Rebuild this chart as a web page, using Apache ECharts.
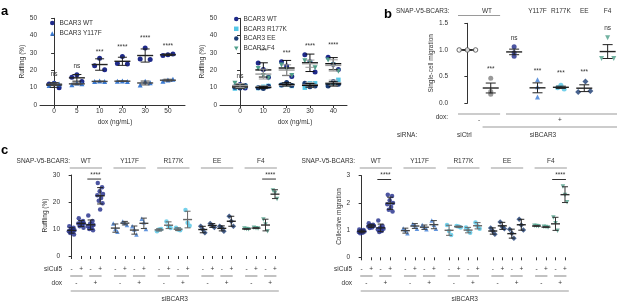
<!DOCTYPE html>
<html><head><meta charset="utf-8">
<script src="https://cdn.jsdelivr.net/npm/echarts@6/dist/echarts.min.js"></script>
<style>html,body{margin:0;padding:0;background:#fff}#c{width:617px;height:303px}</style>
</head><body><div id="c"></div>
<script>
// ================= DATA =================
// Panel a (left): ruffling (%) vs dox
const aLeftDoses = ['0','5','10','20','30','50'];
const aLeftWT    = [[12.1,12.5,10.0],[16.0,17.4,13.6],[22.7,26.9,20.4],[24.0,27.9,23.7],[26.5,32.9,26.2],[28.5,29.0,29.4]];
const aLeftY117F = [[11.2,12.7,12.1],[11.7,12.7,12.2],[13.5,13.8,13.5],[13.7,13.9,13.6],[11.5,13.7,12.9],[13.7,14.4,14.8]];
const aLeftSig   = ['ns','ns','***','****','****','****'];
const aLeftSigAt = [17.5,22.5,30.5,33.5,38.5,34.0];

// Panel a (right)
const aRightDoses = ['0','10','20','30','40'];
const aRightWT    = [[10.5,11.8,9.8],[24.2,20.5,16.0],[25.0,22.5,16.5],[29.0,25.0,19.0],[27.5,23.5,20.5]];
const aRightR177K = [[9.5,10.5,11.0],[9.8,10.5,11.0],[11.5,12.0,11.0],[10.0,12.5,12.5],[11.5,12.5,14.5]];
const aRightEE    = [[10.2,9.8,11.2],[10.0,9.5,10.8],[11.5,13.0,11.2],[12.5,10.5,11.0],[11.0,13.5,12.0]];
const aRightF4    = [[12.5,11.0,10.2],[21.0,17.0,15.5],[23.0,20.5,17.0],[25.5,24.5,21.5],[26.0,23.0,19.5]];
const aRightSig   = ['ns','***','***','****','****'];
const aRightSigAt = [16.5,31.0,30.0,34.0,34.5];

// Panel b: single-cell migration
const bGroups    = ['WT','WT','WT','Y117F','R177K','EE','F4'];
const bMigration = [[1.0,1.0,1.0],[0.47,0.22,0.17],[1.06,0.95,0.88],[0.44,0.31,0.12],[0.29,0.34,0.27],[0.41,0.21,0.23],[1.23,0.84,0.84]];
const bSig       = ['','***','ns','***','***','***','ns'];
const bSigAt     = [0,0.64,1.22,0.61,0.56,0.58,1.41];
const bDox       = ['-','+'];
const bSiRNA     = ['siCtrl','siBCAR3'];

// Panel c
const cMutants = ['WT','Y117F','R177K','EE','F4'];
const cSiCul5  = ['-','+','-','+'];
const cDox     = ['-','+'];
const cRuffWT    = [[11.0,10.5,10.0,9.5,9.2,9.0,8.5,8.0],[14.0,13.0,12.5,12.0,12.0,11.5,11.0,10.5],[15.0,13.0,12.0,11.5,11.0,10.5,10.0,9.5],[27.0,25.5,24.0,23.0,22.5,21.5,20.5,19.5,17.2]];
const cRuffY117F = [[12.0,10.0,9.0],[12.8,12.2,11.5],[11.0,9.8,8.0],[13.8,12.5,10.0]];
const cRuffR177K = [[9.2,9.8,10.0],[12.8,11.0,10.4],[10.5,9.8,9.5],[17.0,12.3,11.2]];
const cRuffEE    = [[11.0,9.8,8.6],[12.0,11.3,10.6],[11.0,10.5,9.2],[14.7,12.9,11.0]];
const cRuffF4    = [[10.2,10.0,9.9],[10.5,10.3,10.2],[13.5,11.7,9.2],[24.3,23.3,21.1]];
const cMigWT     = [[1.02,1.0,0.97,0.95,0.93,0.9,0.88],[1.25,1.2,1.17,1.15,1.13,1.1,1.08],[1.35,1.15,1.1,1.05,1.02,0.97,0.93],[2.3,2.25,2.1,2.0,1.95,1.85,1.75,1.68]];
const cMigY117F  = [[1.06,1.0,0.88],[1.22,1.18,1.05],[1.19,1.1,1.03],[1.35,1.2,1.05]];
const cMigR177K  = [[1.19,0.97,0.82],[1.15,1.13,1.1],[1.1,1.0,0.9],[1.28,1.15,1.05]];
const cMigEE     = [[1.08,0.97,0.85],[1.3,1.12,1.05],[1.03,0.88,0.7],[1.4,1.19,1.0]];
const cMigF4     = [[1.16,1.15,1.14],[1.12,1.11,1.1],[1.46,1.25,0.98],[2.6,2.29,2.02]];
const cSigRuff = ['****','','','','****'];
const cSigRuffAt = 29.7, cSigRuffLine = 28.5;
const cSigMig = ['****','','','','****'];
const cSigMigAt = 2.98, cSigMigLine = 2.86;

// ================= STYLE / LAYOUT =================
const FONT = '"Liberation Sans", Arial, sans-serif';
const FS = 6.5;
const TXT = '#333';
const COL = {WT:'#1f2a8a', Y117F:'#3b7bd4', R177K:'#53c6e6', EE:'#1a3b72', F4:'#4f9f8a', grey:'#7f7f7f'};
const DOWN = 'path://M0,0L10,0L5,9Z';
const jit3 = [-0.22, 0, 0.22];
const jitN = [-0.25, 0.2, -0.05, 0.3, -0.3, 0.1, -0.15, 0.25, 0];
const bJit = [[-0.35,0,0.35],[0,0,0],[0,0,0],[0,0,0],[-0.14,0,0.14],[0.05,-0.26,0.26],[0,-0.26,0.26]];
const cStep = 4.6;
const cX = (g,i) => g*cStep + i;

function stats(arr, sem){
  const n = arr.length, m = arr.reduce((a,b)=>a+b,0)/n;
  const sd = n>1 ? Math.sqrt(arr.reduce((a,b)=>a+(b-m)*(b-m),0)/(n-1)) : 0;
  const e = sem ? sd/Math.sqrt(n) : sd;
  return [m, m-e, m+e];
}
function errRender(hm, hc, lw){
  return function(params, api){
    const x=api.value(0), m=api.value(1), lo=api.value(2), hi=api.value(3);
    const pm=api.coord([x,m]), pl=api.coord([x,lo]), ph=api.coord([x,hi]);
    const c = api.visual('color');
    const st = {stroke:c, lineWidth:1};
    return {type:'group', children:[
      {type:'line', shape:{x1:pl[0],y1:pl[1],x2:ph[0],y2:ph[1]}, style:st},
      {type:'line', shape:{x1:pl[0]-hc,y1:pl[1],x2:pl[0]+hc,y2:pl[1]}, style:st},
      {type:'line', shape:{x1:ph[0]-hc,y1:ph[1],x2:ph[0]+hc,y2:ph[1]}, style:st},
      {type:'line', shape:{x1:pm[0]-hm,y1:pm[1],x2:pm[0]+hm,y2:pm[1]}, style:{stroke:c, lineWidth:lw||1.4}}
    ]};
  };
}
function errSeries(name, k, pts, color, hm, hc, lw){
  return {name, type:'custom', xAxisIndex:k, yAxisIndex:k, z:4, silent:true,
    dimensions:['x','m','lo','hi'], encode:{x:0,y:1},
    itemStyle:{color}, renderItem: errRender(hm,hc,lw), data: pts};
}
const series = [];

function addDose(k, name, arrs, symbol, color, ecol, size){
  const pts = [], eb = [];
  arrs.forEach((vals,i)=>{
    vals.forEach((v,j)=>pts.push([i + jit3[j%3], v]));
    eb.push([i, ...stats(vals,false)]);
  });
  series.push({name, type:'scatter', xAxisIndex:k, yAxisIndex:k, symbol, symbolSize:size||5,
    itemStyle:{color, opacity:1}, z:2, data:pts});
  series.push(errSeries(name+'_e'+k, k, eb, ecol, 8, 4.5));
}
addDose(0,'BCAR3 WT', aLeftWT, 'circle', COL.WT, '#222');
addDose(0,'BCAR3 Y117F', aLeftY117F, 'triangle', COL.Y117F, '#444');
addDose(1,'BCAR3 WT', aRightWT, 'circle', COL.WT, '#111');
addDose(1,'BCAR3 R177K', aRightR177K, 'rect', COL.R177K, '#aaa', 4.5);
addDose(1,'BCAR3 EE', aRightEE, 'circle', COL.EE, '#111');
addDose(1,'BCAR3 F4', aRightF4, DOWN, COL.F4, '#999');

// Panel b
(function(){
  const cols = ['#444', COL.grey, COL.WT, COL.Y117F, COL.R177K, COL.EE, COL.F4];
  const syms = ['circle','circle','circle','triangle','circle','diamond',DOWN];
  const pts = [], pts0 = [], eb = [];
  bMigration.forEach((vals,i)=>{
    vals.forEach((v,j)=>{
      const item = i===0
        ? {value:[i + bJit[i][j], v], symbol:'circle', symbolSize:4.5, itemStyle:{color:'#fff', borderColor:cols[0], borderWidth:1}}
        : {value:[i + bJit[i][j], v], symbol:syms[i], symbolSize: i===5?6:5, itemStyle:{color:cols[i]}};
      (i===0 ? pts0 : pts).push(item);
    });
    eb.push([i, ...stats(vals,true)]);
  });
  series.push({name:'b_pts', type:'scatter', xAxisIndex:2, yAxisIndex:2, z:2, data:pts});
  series.push(errSeries('b_err', 2, eb, '#222', 8, 5));
  series.push({name:'b_ctrl', type:'scatter', xAxisIndex:2, yAxisIndex:2, z:6, data:pts0});
})();

// Panel c
function addC(k, g, name, arrs, symbol, color, ecol){
  const pts = [], eb = [];
  arrs.forEach((vals,i)=>{
    const jj = vals.length>3 ? jitN : jit3;
    vals.forEach((v,j)=>pts.push([cX(g,i) + jj[j%jj.length], v]));
    eb.push([cX(g,i), ...stats(vals,false)]);
  });
  series.push({name:name+'_c'+k, type:'scatter', xAxisIndex:k, yAxisIndex:k, symbol, symbolSize: symbol==='diamond'?5.5:4.5,
    itemStyle:{color}, z:2, data:pts});
  series.push(errSeries(name+'_ce'+k, k, eb, ecol, 4.5, 3));
}
const cSyms = ['circle','triangle','circle','diamond',DOWN];
const cCols = [COL.WT, COL.Y117F, COL.R177K, COL.EE, COL.F4];
const cECols = ['#222','#444','#666','#222','#333'];
[cRuffWT,cRuffY117F,cRuffR177K,cRuffEE,cRuffF4].forEach((a,g)=>addC(3,g,cMutants[g],a,cSyms[g],cCols[g],cECols[g]));
[cMigWT,cMigY117F,cMigR177K,cMigEE,cMigF4].forEach((a,g)=>addC(4,g,cMutants[g],a,cSyms[g],cCols[g],cECols[g]));

// ================= AXES =================
const axLine = {show:true, lineStyle:{color:'#333', width:1}};
const axTick = {show:true, length:3, lineStyle:{color:'#333'}};
const lab = {fontSize:FS, fontFamily:FONT, color:TXT, margin:3};
const nameTS = {fontSize:FS, fontFamily:FONT, color:TXT};
const idx = n => Array.from({length:n},(_,i)=>i);
const cTicks = [];
cMutants.forEach((m,g)=>cSiCul5.forEach((s,i)=>cTicks.push(cX(g,i))));

const grid = [
  {left:40, top:18.3, width:145, height:86.7},
  {left:220, top:18.3, width:127, height:86.7},
  {left:451, top:23.3, width:166, height:80},
  {left:63.1, top:175, width:221.4, height:81},
  {left:353.1, top:175.7, width:221.4, height:81.6}
];
const xAxis = [
  {gridIndex:0, type:'value', min:-0.62, max:5.75, axisLine:axLine, splitLine:{show:false},
   axisTick:{...axTick, customValues:idx(6)}, axisLabel:{...lab, customValues:idx(6), formatter:v=>aLeftDoses[Math.round(v)]}},
  {gridIndex:1, type:'value', min:-0.86, max:4.59, axisLine:axLine, splitLine:{show:false},
   axisTick:{...axTick, customValues:idx(5)}, axisLabel:{...lab, customValues:idx(5), formatter:v=>aRightDoses[Math.round(v)]}},
  {gridIndex:2, type:'value', min:-0.7, max:6.4, axisLine:{show:false}, axisTick:{show:false}, axisLabel:{show:false}, splitLine:{show:false}},
  {gridIndex:3, type:'value', min:-0.9, max:22.4, axisLine:{show:false}, splitLine:{show:false},
   axisTick:{...axTick, customValues:cTicks}, axisLabel:{show:false}},
  {gridIndex:4, type:'value', min:-0.9, max:22.4, axisLine:{show:false}, splitLine:{show:false},
   axisTick:{...axTick, customValues:cTicks}, axisLabel:{show:false}}
];
const yAxis = [
  {gridIndex:0, type:'value', min:0, max:50, interval:10, axisLine:axLine, axisTick:axTick, axisLabel:lab, splitLine:{show:false},
   name:'Ruffling (%)', nameLocation:'middle', nameGap:13, nameTextStyle:nameTS},
  {gridIndex:1, type:'value', min:0, max:50, interval:10, axisLine:axLine, axisTick:axTick, axisLabel:lab, splitLine:{show:false},
   name:'Ruffling (%)', nameLocation:'middle', nameGap:13, nameTextStyle:nameTS},
  {gridIndex:2, type:'value', min:0, max:1.5, interval:0.5, axisLine:axLine, axisTick:axTick, axisLabel:{...lab, formatter:v=>v.toFixed(1)}, splitLine:{show:false},
   name:'Single-cell migration', nameLocation:'middle', nameGap:16, nameTextStyle:nameTS},
  {gridIndex:3, type:'value', min:0, max:30, interval:10, axisLine:axLine, axisTick:axTick, axisLabel:lab, splitLine:{show:false},
   name:'Ruffling (%)', nameLocation:'middle', nameGap:13, nameTextStyle:nameTS},
  {gridIndex:4, type:'value', min:0, max:3, interval:1, axisLine:axLine, axisTick:axTick, axisLabel:lab, splitLine:{show:false},
   name:'Collective migration', nameLocation:'middle', nameGap:10, nameTextStyle:nameTS}
];
const legTS = {fontSize:FS, fontFamily:FONT, color:TXT, lineHeight:8};
const legend = [
  {data:['BCAR3 WT','BCAR3 Y117F'], left:45, top:14, orient:'vertical', itemWidth:4.5, itemHeight:4.5, itemGap:2.5, textStyle:legTS, selectedMode:false},
  {data:['BCAR3 WT','BCAR3 R177K','BCAR3 EE','BCAR3 F4'], left:229, top:10, orient:'vertical', itemWidth:4.5, itemHeight:4.5, itemGap:1.8, textStyle:legTS, selectedMode:false}
];

const chart = echarts.init(document.getElementById('c'), null, {renderer:'canvas'});
chart.setOption({animation:false, backgroundColor:'#fff', grid, xAxis, yAxis, legend, series});

// ================= ANNOTATIONS =================
const P = (k,x,y)=>chart.convertToPixel({xAxisIndex:k, yAxisIndex:k},[x,y]);
function T(x,y,text,o){ o=o||{};
  return {type:'text', x, y, silent:true, z:10, style:{text, fontSize:o.fs||FS, fontFamily:FONT, fontWeight:o.fw||'normal',
    fill:o.color||TXT, align:o.align||'center', verticalAlign:o.va||'middle', textAlign:o.align||'center', textVerticalAlign:o.va||'middle'}};
}
function L(x1,y1,x2,y2,c,w){ return {type:'line', silent:true, z:10, shape:{x1,y1,x2,y2}, style:{stroke:c||'#9a9a9a', lineWidth:w||1.2}}; }
const G = [];
G.push(T(1,11,'a',{fs:13,fw:'bold',align:'left',color:'#000'}));
G.push(T(384,14,'b',{fs:13,fw:'bold',align:'left',color:'#000'}));
G.push(T(1,150,'c',{fs:13,fw:'bold',align:'left',color:'#000'}));
aLeftSig.forEach((s,i)=>{const p=P(0,i,aLeftSigAt[i]); G.push(T(p[0],p[1],s));});
aRightSig.forEach((s,i)=>{const p=P(1,i,aRightSigAt[i]); G.push(T(p[0],p[1],s));});
G.push(T(115,122,'dox (ng/mL)'));
G.push(T(295,122,'dox (ng/mL)'));
// panel b header / rows
G.push(T(396,11,'SNAP-V5-BCAR3:',{align:'left'}));
{ const p0=P(2,-0.4,0), p1=P(2,1.4,0); G.push(L(p0[0],15.5,p1[0],15.5)); G.push(T(487,11,bGroups[0])); }
for(let i=3;i<7;i++){ const p=P(2,i,0); G.push(T(p[0],11,bGroups[i])); }
bSig.forEach((s,i)=>{ if(!s) return; const p=P(2,i,bSigAt[i]); G.push(T(p[0],p[1],s)); });
G.push(T(448,117,'dox:',{align:'right'}));
{ const a=P(2,-0.4,0), b=P(2,1.4,0), c=P(2,1.65,0), d=P(2,6.4,0);
  G.push(L(a[0],114,b[0],114)); G.push(T((a[0]+b[0])/2,120.5,bDox[0]));
  G.push(L(c[0],114,d[0],114)); G.push(T(560,120.5,bDox[1]));
  G.push(T(397,135,'siRNA:',{align:'left'}));
  const s0=P(2,0,0), s1=P(2,0.65,0);
  G.push(T(s0[0]-3,135,bSiRNA[0])); G.push(L(s1[0],127,d[0],127)); G.push(T(543,135,bSiRNA[1]));
}
// panel c headers/rows
function cAnn(k, snapRight, sig, sigAt, sigLine){
  G.push(T(snapRight,161,'SNAP-V5-BCAR3:',{align:'right'}));
  cMutants.forEach((m,g)=>{
    const a=P(k,cX(g,0)-0.2,0), b=P(k,cX(g,3)+0.2,0);
    G.push(L(a[0],168,b[0],168)); G.push(T((a[0]+b[0])/2,161,m));
    cSiCul5.forEach((s,i)=>{ const p=P(k,cX(g,i),0); G.push(T(p[0],269,s)); });
    [0,2].forEach((i,h)=>{ const a2=P(k,cX(g,i)-0.15,0), b2=P(k,cX(g,i+1)+0.15,0);
      G.push(L(a2[0],276,b2[0],276)); G.push(T((a2[0]+b2[0])/2,283,cDox[h])); });
    if(sig[g]){ const s=P(k,cX(g,2.5),sigAt), l0=P(k,cX(g,2)-0.35,sigLine), l1=P(k,cX(g,3)+0.1,sigLine);
      G.push(T(s[0],s[1]-1,sig[g])); G.push(L(l0[0],l0[1],l1[0],l1[1],'#333',1)); }
  });
  const ax = P(k,-0.9,0);
  G.push(T(ax[0]-1,269,'siCul5',{align:'right'}));
  G.push(T(ax[0]-1,283,'dox',{align:'right'}));
  const a=P(k,cX(0,0)-0.1,0), b=P(k,cX(4,3)+0.4,0);
  G.push(L(a[0],291,b[0],291)); G.push(T((a[0]+b[0])/2,299.5,'siBCAR3'));
}
cAnn(3, 70, cSigRuff, cSigRuffAt, cSigRuffLine);
cAnn(4, 355, cSigMig, cSigMigAt, cSigMigLine);
chart.setOption({graphic: G});
</script></body></html>
